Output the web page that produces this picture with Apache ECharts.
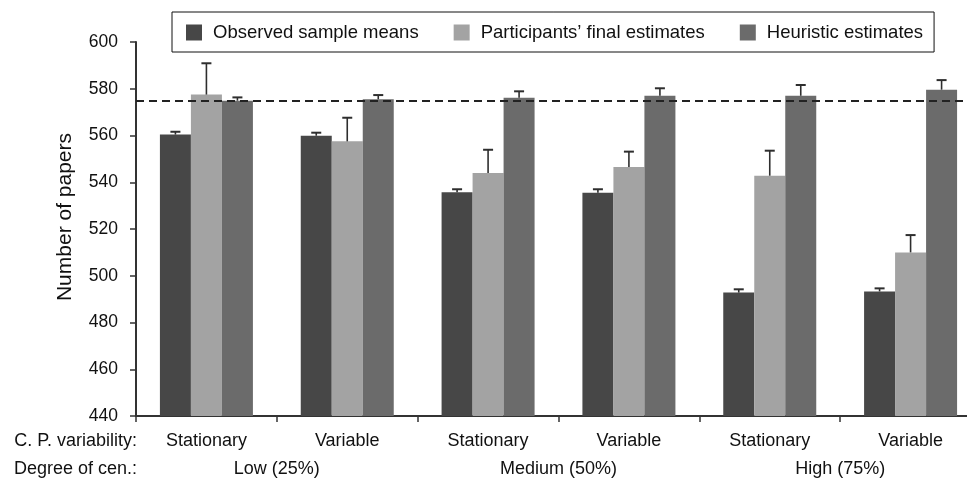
<!DOCTYPE html>
<html>
<head>
<meta charset="utf-8">
<script src="https://cdn.jsdelivr.net/npm/echarts@6/dist/echarts.min.js"></script>
<style>
html,body{margin:0;padding:0;background:#fff;}
#chart{width:967px;height:478px;}
</style>
</head>
<body>
<div id="chart"></div>
<script>
const categories = ['Stationary', 'Variable', 'Stationary', 'Variable', 'Stationary', 'Variable'];
const groups = ['Low (25%)', 'Medium (50%)', 'High (75%)'];
const seriesNames = ['Observed sample means', 'Participants\u2019 final estimates', 'Heuristic estimates'];
const observed = [560.4, 559.9, 535.7, 535.5, 492.8, 493.3];
const observedErrTop = [561.6, 561.2, 537.0, 537.0, 494.2, 494.6];
const participants = [577.5, 557.5, 544.0, 546.5, 542.8, 510.0];
const participantsErrTop = [590.9, 567.6, 553.9, 553.1, 553.5, 517.4];
const heuristic = [574.9, 575.5, 576.2, 577.0, 577.0, 579.6];
const heuristicErrTop = [576.3, 577.3, 578.9, 580.2, 581.6, 583.7];
const referenceValue = 575;
const yTicks = [440, 460, 480, 500, 520, 540, 560, 580, 600];
const yTitle = 'Number of papers';
const rowTitles = ['C. P. variability:', 'Degree of cen.:'];

const FONT = 'Liberation Sans, Arial, Helvetica, sans-serif';
const BW = 31;
const colors = ['#474747', '#a3a3a3', '#6b6b6b'];

function errSeries(idx, vals, tops) {
  return {
    type: 'custom',
    silent: true,
    z: 10,
    encode: { x: 0, y: [1, 2] },
    data: vals.map((v, i) => [i, v, tops[i]]),
    renderItem: function (params, api) {
      const c = api.value(0);
      const p0 = api.coord([c, api.value(1)]);
      const p1 = api.coord([c, api.value(2)]);
      const x = p0[0] + (idx - 1) * BW;
      return {
        type: 'group',
        children: [
          { type: 'line', shape: { x1: x, y1: p0[1], x2: x, y2: p1[1] }, style: { stroke: '#2e2e2e', lineWidth: 1.6 } },
          { type: 'line', shape: { x1: x - 5, y1: p1[1], x2: x + 5, y2: p1[1] }, style: { stroke: '#2e2e2e', lineWidth: 2 } }
        ]
      };
    }
  };
}

const chart = echarts.init(document.getElementById('chart'), null, { renderer: 'canvas' });
chart.setOption({
  animation: false,
  textStyle: { fontFamily: FONT },
  legend: {
    data: seriesNames,
    left: 172,
    top: 12,
    padding: [11, 11, 10, 14],
    borderColor: '#111',
    borderWidth: 1,
    itemWidth: 16,
    itemHeight: 16,
    itemGap: 35,
    icon: 'rect',
    textStyle: { fontFamily: FONT, fontSize: 18.5, color: '#111', padding: [0, 0, 0, 6] }
  },
  grid: { left: 136, width: 845, top: 42, bottom: 62, containLabel: false, outerBoundsMode: 'none' },
  xAxis: [
    {
      type: 'category',
      data: categories,
      position: 'bottom',
      axisLine: { lineStyle: { color: '#333', width: 2 } },
      axisTick: { show: true, length: 6, lineStyle: { color: '#333', width: 1.5 } },
      axisLabel: { fontFamily: FONT, fontSize: 18, color: '#111', margin: 16 }
    },
    {
      type: 'category',
      data: groups,
      position: 'bottom',
      offset: 28,
      axisLine: { show: false },
      axisTick: { show: false },
      axisLabel: { fontFamily: FONT, fontSize: 18, color: '#111', margin: 16 }
    }
  ],
  yAxis: {
    type: 'value',
    min: yTicks[0],
    max: yTicks[yTicks.length - 1],
    interval: 20,
    axisLine: { show: true, lineStyle: { color: '#333', width: 2 } },
    axisTick: { show: true, length: 6, lineStyle: { color: '#333', width: 1.5 } },
    axisLabel: { fontFamily: FONT, fontSize: 17.5, color: '#111', margin: 18 },
    splitLine: { show: false }
  },
  graphic: [
    { type: 'text', x: 65, y: 217, rotation: Math.PI / 2, style: { text: yTitle, font: '21px ' + FONT, fill: '#111', textAlign: 'center', textVerticalAlign: 'middle' } },
    { type: 'text', x: 137, y: 441, style: { text: rowTitles[0], font: '18px ' + FONT, fill: '#111', textAlign: 'right', textVerticalAlign: 'middle' } },
    { type: 'text', x: 137, y: 469, style: { text: rowTitles[1], font: '18px ' + FONT, fill: '#111', textAlign: 'right', textVerticalAlign: 'middle' } }
  ],
  series: [
    { name: seriesNames[0], type: 'bar', data: observed, barWidth: BW, barGap: '0%', itemStyle: { color: colors[0] } },
    { name: seriesNames[1], type: 'bar', data: participants, barWidth: BW, barGap: '0%', itemStyle: { color: colors[1] } },
    {
      name: seriesNames[2], type: 'bar', data: heuristic, barWidth: BW, barGap: '0%', itemStyle: { color: colors[2] },
      markLine: {
        silent: true,
        symbol: 'none',
        label: { show: false },
        lineStyle: { color: '#222', width: 2, type: [8, 5] },
        data: [{ yAxis: referenceValue }]
      }
    },
    errSeries(0, observed, observedErrTop),
    errSeries(1, participants, participantsErrTop),
    errSeries(2, heuristic, heuristicErrTop)
  ]
});
</script>
</body>
</html>
